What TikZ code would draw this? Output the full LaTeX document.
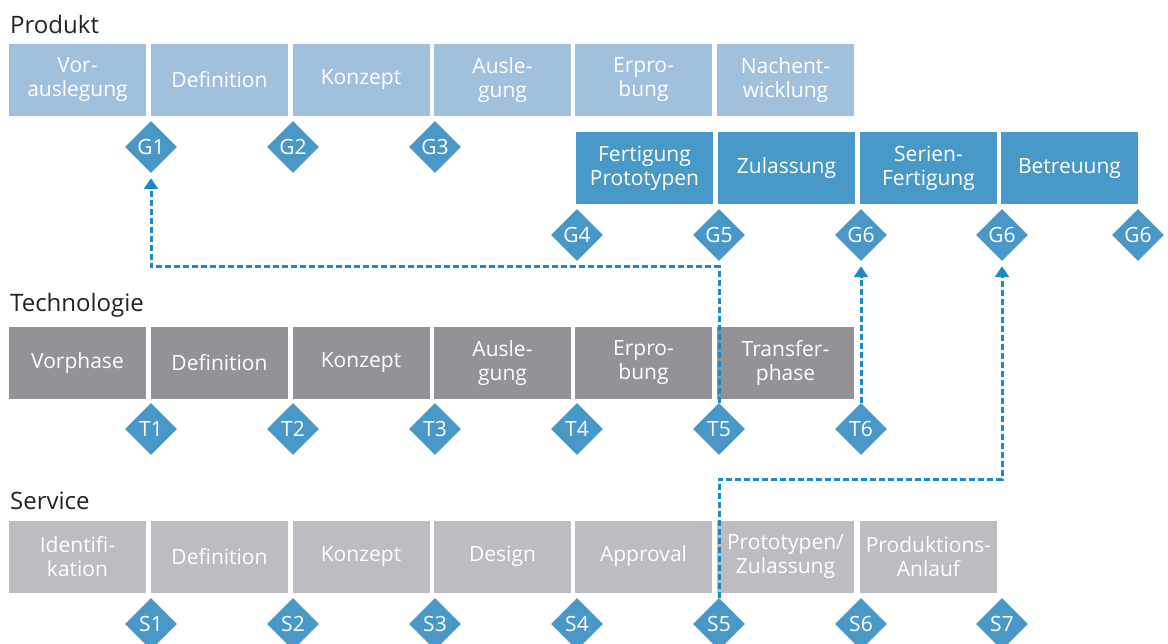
\documentclass[tikz,border=0pt]{standalone}
\usepackage{fontspec}
\setmainfont{Open Sans}
\usetikzlibrary{shapes.geometric,arrows.meta}
\definecolor{prodlight}{HTML}{A0C0DC}
\definecolor{prodblue}{HTML}{4898C8}
\definecolor{techgrey}{HTML}{939397}
\definecolor{servgrey}{HTML}{BDBDC1}
\definecolor{gateblue}{HTML}{4A98C8}
\definecolor{linkblue}{HTML}{1A8AC6}
\definecolor{labelgrey}{HTML}{222222}
\begin{document}
\begin{tikzpicture}[x=1pt,y=-1pt,
    phase/.style={minimum width=137pt, minimum height=72pt, inner sep=0pt, align=center, text=white, font=\fontsize{21}{24}\selectfont},
    gate/.style={diamond, aspect=1, minimum width=52pt, minimum height=52pt, inner sep=0pt, fill=gateblue, text=white, font=\fontsize{21}{22}\selectfont},
    rowlabel/.style={anchor=base west, inner sep=0pt, text=labelgrey, font=\fontsize{24}{26}\selectfont},
    link/.style={linkblue, line width=3pt, dash pattern=on 6pt off 3pt, shorten >=5pt, -{Triangle[width=14pt,length=11pt]}}]
  \useasboundingbox (0,0) rectangle (1168,644);
  % Produkt
  \node[rowlabel] (produkt) at (10,34) {Produkt};
  \node[phase, fill=prodlight] (p1) at (77.5,80) {Vor-\\auslegung};
  \node[phase, fill=prodlight] (p2) at (219.5,80) {Definition};
  \node[phase, fill=prodlight] (p3) at (361,80) {Konzept};
  \node[phase, fill=prodlight] (p4) at (502.5,80) {Ausle-\\gung};
  \node[phase, fill=prodlight] (p5) at (643.5,80) {Erpro-\\bung};
  \node[phase, fill=prodlight] (p6) at (785.5,80) {Nachent-\\wicklung};
  \node[gate] (G1) at (151,147) {G1};
  \node[gate] (G2) at (293,147) {G2};
  \node[gate] (G3) at (435,147) {G3};
  \node[phase, fill=prodblue] (f1) at (644.5,168.5) {Fertigung\\Prototypen};
  \node[phase, fill=prodblue] (f2) at (786.5,168.5) {Zulassung};
  \node[phase, fill=prodblue] (f3) at (928.5,168.5) {Serien-\\Fertigung};
  \node[phase, fill=prodblue] (f4) at (1069.5,168.5) {Betreuung};
  \node[gate] (G4) at (577,235) {G4};
  \node[gate] (G5) at (719,235) {G5};
  \node[gate] (G6a) at (861,235) {G6};
  \node[gate] (G6b) at (1002,235) {G6};
  \node[gate] (G6c) at (1138,235) {G6};
  % Technologie
  \node[rowlabel] (technologie) at (10,312) {Technologie};
  \node[phase, fill=techgrey] (t1) at (77.5,363) {Vorphase};
  \node[phase, fill=techgrey] (t2) at (219.5,363) {Definition};
  \node[phase, fill=techgrey] (t3) at (361,363) {Konzept};
  \node[phase, fill=techgrey] (t4) at (502.5,363) {Ausle-\\gung};
  \node[phase, fill=techgrey] (t5) at (643.5,363) {Erpro-\\bung};
  \node[phase, fill=techgrey] (t6) at (785.5,363) {Transfer-\\phase};
  \node[gate] (T1) at (151,429) {T1};
  \node[gate] (T2) at (293,429) {T2};
  \node[gate] (T3) at (435,429) {T3};
  \node[gate] (T4) at (577,429) {T4};
  \node[gate] (T5) at (719,429) {T5};
  \node[gate] (T6) at (861,429) {T6};
  % Service
  \node[rowlabel] (service) at (10,509) {Service};
  \node[phase, fill=servgrey] (s1) at (77.5,556.5) {Identifi-\\kation};
  \node[phase, fill=servgrey] (s2) at (219.5,556.5) {Definition};
  \node[phase, fill=servgrey] (s3) at (361,556.5) {Konzept};
  \node[phase, fill=servgrey] (s4) at (502.5,556.5) {Design};
  \node[phase, fill=servgrey] (s5) at (643.5,556.5) {Approval};
  \node[phase, fill=servgrey] (s6) at (785.5,556.5) {Prototypen/\\Zulassung};
  \node[phase, fill=servgrey] (s7) at (928.5,556.5) {Produktions-\\Anlauf};
  \node[gate] (S1) at (151,624) {S1};
  \node[gate] (S2) at (293,624) {S2};
  \node[gate] (S3) at (435,624) {S3};
  \node[gate] (S4) at (577,624) {S4};
  \node[gate] (S5) at (719,624) {S5};
  \node[gate] (S6) at (861,624) {S6};
  \node[gate] (S7) at (1002,624) {S7};
  % links
  \coordinate (turnA) at (151,267);
  \coordinate (turnB) at (719,479);
  \draw[link] (T5.north) |- (turnA) -- (G1.south);
  \draw[link] (T6.north) -- (G6a.south);
  \draw[link] (S5.north) -- (turnB) -| (G6b.south);
\end{tikzpicture}
\end{document}
